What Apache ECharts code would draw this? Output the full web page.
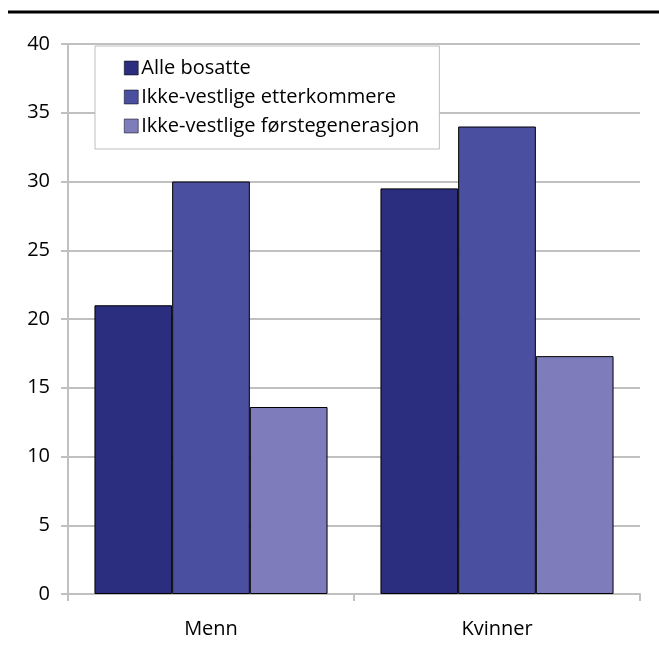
<!DOCTYPE html>
<html>
<head>
<meta charset="utf-8">
<script src="https://cdn.jsdelivr.net/npm/echarts@6/dist/echarts.min.js"></script>
<style>
  html, body { margin: 0; padding: 0; background: #fff; }
  #chart { width: 659px; height: 648px; }
</style>
</head>
<body>
<div id="chart"></div>
<script>
  // 데이터
  const categories = ['Menn', 'Kvinner'];
  const seriesNames = ['Alle bosatte', 'Ikke-vestlige etterkommere', 'Ikke-vestlige førstegenerasjon'];
  const alleBosatte = [21, 29.5];
  const etterkommere = [30, 34];
  const forstegenerasjon = [13.6, 17.3];
  const colors = ['#2b2e7e', '#4b4fa0', '#7e7cbb'];

  const chart = echarts.init(document.getElementById('chart'));
  const font = '"Open Sans", "Noto Sans", sans-serif';

  const values = [alleBosatte, etterkommere, forstegenerasjon];
  const series = seriesNames.map(function (name, i) {
    return {
      name: name,
      type: 'bar',
      data: values[i],
      barGap: '0%',
      barCategoryGap: '18.5%',
      itemStyle: { color: colors[i], borderColor: '#000', borderWidth: 1 }
    };
  });

  chart.setOption({
    animation: false,
    textStyle: { fontFamily: font },
    graphic: [{
      type: 'line',
      shape: { x1: 8, y1: 12, x2: 659, y2: 12 },
      style: { stroke: '#000', lineWidth: 3 }
    }],
    legend: {
      orient: 'vertical',
      left: 95,
      top: 46,
      backgroundColor: '#fff',
      borderColor: '#bdbdbd',
      borderWidth: 1,
      padding: [11, 20, 12, 29],
      itemGap: 7,
      itemWidth: 14,
      itemHeight: 14,
      icon: 'rect',
      textStyle: { fontSize: 20, lineHeight: 22, color: '#000', fontFamily: font, padding: [0, 0, 0, -2] },
      itemStyle: { borderColor: '#000', borderWidth: 0.5 },
      data: seriesNames
    },
    grid: { left: 68, right: 19, top: 44, bottom: 54 },
    xAxis: {
      type: 'category',
      data: categories,
      axisLine: { lineStyle: { color: '#c0c0c0', width: 2 } },
      axisTick: { show: true, length: 7, lineStyle: { color: '#c0c0c0', width: 2 } },
      axisLabel: { fontSize: 20, color: '#000', margin: 25, fontFamily: font }
    },
    yAxis: {
      type: 'value',
      min: 0,
      max: 40,
      interval: 5,
      axisLine: { show: true, lineStyle: { color: '#c0c0c0', width: 2 } },
      axisTick: { show: true, length: 7, lineStyle: { color: '#c0c0c0', width: 2 } },
      axisLabel: { fontSize: 20, color: '#000', margin: 18, fontFamily: font },
      splitLine: { lineStyle: { color: '#c0c0c0', width: 2 } }
    },
    series: series
  });
</script>
</body>
</html>
